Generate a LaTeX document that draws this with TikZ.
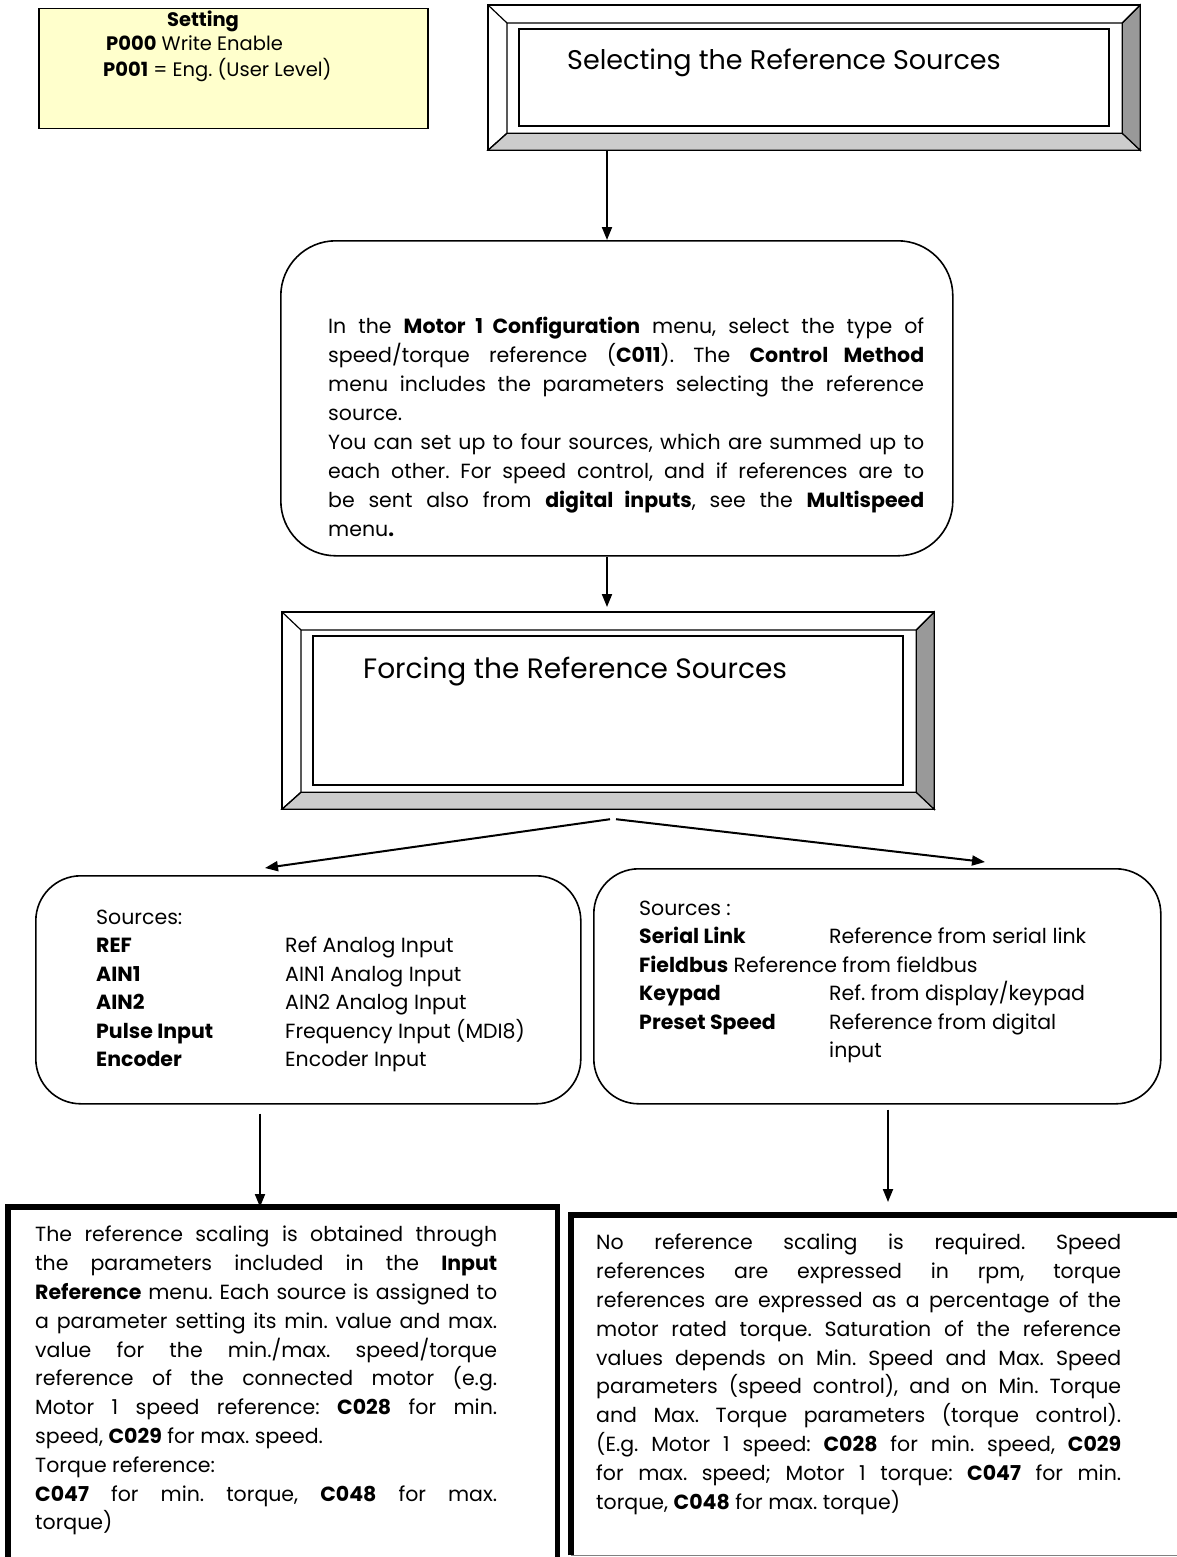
\documentclass[tikz,border=0pt]{standalone}
\usepackage{fontspec}
\setmainfont{Poppins}
\usetikzlibrary{calc,arrows.meta}

\definecolor{notefill}{HTML}{FFFFCC}
\definecolor{bevlight}{HTML}{CCCCCC}
\definecolor{bevdark}{HTML}{999999}

\hyphenpenalty=10000
\exhyphenpenalty=10000
\frenchspacing

\tikzset{
  arr/.style={line width=2pt, -{Triangle[length=13pt,width=10pt]}},
  notebox/.style={draw, fill=notefill, line width=1.5pt, anchor=north west, inner sep=0pt},
  notetxt/.style={inner sep=0pt, font=\fontsize{19.5}{24}\selectfont},
  bevbox/.style={draw, line width=1.2pt, anchor=north west, inner sep=0pt},
  ttl/.style={inner sep=0pt, font=\fontsize{27}{32}\selectfont},
  srcbox/.style={draw, line width=1.6pt, rounded corners=45pt, anchor=north west, inner sep=0pt},
  srctxt/.style={inner sep=0pt, anchor=north west, font=\fontsize{20.5}{28.5}\selectfont},
  body/.style={inner sep=0pt, anchor=north west, align=justify, font=\fontsize{20.5}{28.8}\selectfont},
  heavy/.style={line width=5.5pt}
}

\newcommand{\bevelframe}[1]{%
  \coordinate (#1-ia) at ($(#1.north west)+(19,18)$);
  \coordinate (#1-ib) at ($(#1.north east)+(-18,18)$);
  \coordinate (#1-ic) at ($(#1.south east)+(-18,-17)$);
  \coordinate (#1-id) at ($(#1.south west)+(19,-17)$);
  \filldraw[fill=bevlight, draw=black, line width=1.2pt] (#1.south west) -- (#1.south east) -- (#1-ic) -- (#1-id) -- cycle;
  \filldraw[fill=bevdark, draw=black, line width=1.2pt] (#1.south east) -- (#1.north east) -- (#1-ib) -- (#1-ic) -- cycle;
  \draw[line width=1.2pt] (#1.north west) -- (#1-ia) -- (#1-ib) -- (#1.north east) (#1-ia) -- (#1-id) -- (#1.south west);
  \draw[line width=1.2pt] (#1.north west) rectangle (#1.south east);
  \draw[line width=2pt, fill=white] ($(#1.north west)+(31,24)$) rectangle ($(#1.south east)+(-31,-24)$);
}

\begin{document}
\begin{tikzpicture}[x=1pt, y=-1pt]
    \useasboundingbox (0,0) rectangle (1177,1557);
    \fill[white] (0,0) rectangle (1177,1557);

    % setting note
    \node[notebox, minimum width=389pt, minimum height=120pt] (set) at (38,8) {};
    \node[notetxt, anchor=base] (sett) at (203,27) {\textbf{Setting}};
    \node[notetxt, anchor=base west] (p0) at (106,51) {\textbf{P000} Write Enable};
    \node[notetxt, anchor=base west] (p1) at (103,77) {\textbf{P001} = Eng. (User Level)};

    % bevelled frames
    \node[bevbox, minimum width=651pt, minimum height=144pt] (sel) at (488,5) {};
    \bevelframe{sel}
    \node[ttl, anchor=base west] (selt) at (567,70) {Selecting the Reference Sources};

    \node[srcbox, rounded corners=55pt, minimum width=672pt, minimum height=315pt] (mot) at (280,240) {};
    \node[body, text width=596pt, font=\fontsize{20.5}{29}\selectfont] (mott) at (328,317) {In the \textbf{Motor 1 Configuration} menu, select the type of\linebreak
      speed/torque reference (\textbf{C011}). The \textbf{Control Method}\linebreak
      menu includes the parameters selecting the reference\linebreak
      source.\\
      You can set up to four sources, which are summed up to\linebreak
      each other. For speed control, and if references are to\linebreak
      be sent also from \textbf{digital inputs}, see the \textbf{Multispeed}\linebreak
      menu\textbf{.}};

    \node[bevbox, minimum width=651pt, minimum height=196pt] (frc) at (282,612) {};
    \bevelframe{frc}
    \node[ttl, anchor=base west, font=\fontsize{28}{32}\selectfont] (frct) at (363,678) {Forcing the Reference Sources};

    % source lists
    \node[srcbox, minimum width=545pt, minimum height=228pt] (lsrc) at (35,875) {};
    \node[srctxt] (lsrct) at (96,904) {\begin{tabular}{@{}p{189pt}@{}l@{}}
      Sources: & \\
      \textbf{REF} & Ref Analog Input\\
      \textbf{AIN1} & AIN1 Analog Input\\
      \textbf{AIN2} & AIN2 Analog Input\\
      \textbf{Pulse Input} & Frequency Input (MDI8)\\
      \textbf{Encoder} & Encoder Input
    \end{tabular}};

    \node[srcbox, minimum width=567pt, minimum height=235pt] (rsrc) at (593,868) {};
    \node[srctxt] (rsrct) at (639,895) {\begin{tabular}{@{}p{190pt}@{}l@{}}
      Sources : & \\
      \textbf{Serial Link} & Reference from serial link\\
      \multicolumn{2}{@{}l@{}}{\textbf{Fieldbus} Reference from fieldbus}\\
      \textbf{Keypad} & Ref. from display/keypad\\
      \textbf{Preset Speed} & Reference from digital\\
      & input
    \end{tabular}};

    % scaling notes
    \node[anchor=north west, inner sep=0pt, minimum width=549pt, minimum height=350pt] (scl) at (8,1207) {};
    \draw[heavy] (scl.south west) |- (scl.north east) -- (scl.south east);
    \node[body, text width=462pt] (sclt) at (35,1226) {The reference scaling is obtained through\linebreak
      the parameters included in the \textbf{Input}\linebreak
      \textbf{Reference} menu. Each source is assigned to\linebreak
      a parameter setting its min. value and max.\linebreak
      value for the min./max. speed/torque\linebreak
      reference of the connected motor (e.g.\linebreak
      Motor 1 speed reference: \textbf{C028} for min.\linebreak
      speed, \textbf{C029} for max. speed.\\
      Torque reference:\\
      \textbf{C047} for min. torque, \textbf{C048} for max.\linebreak
      torque)};

    \node[anchor=north west, inner sep=0pt, minimum width=620pt, minimum height=340pt] (nsc) at (571,1215) {};
    \draw[heavy] (nsc.south west) |- (nsc.north east);
    \draw[line width=1pt, gray] (nsc.south west) -- (nsc.south east);
    \node[body, text width=525pt] (nsct) at (596,1234) {No reference scaling is required. Speed\linebreak
      references are expressed in rpm, torque\linebreak
      references are expressed as a percentage of the\linebreak
      motor rated torque. Saturation of the reference\linebreak
      values depends on Min. Speed and Max. Speed\linebreak
      parameters (speed control), and on Min. Torque\linebreak
      and Max. Torque parameters (torque control).\linebreak
      (E.g. Motor 1 speed: \textbf{C028} for min. speed, \textbf{C029}\linebreak
      for max. speed; Motor 1 torque: \textbf{C047} for min.\linebreak
      torque, \textbf{C048} for max. torque)};

    % connectors
    \coordinate (lt) at (265,868);
    \coordinate (rt) at (985,862);
    \draw[arr] (sel.south -| 607,0) -- (mot.north -| 607,0);
    \draw[arr] (mot.south -| 607,0) -- ($(frc.north -| 607,0)+(0,-5)$);
    \draw[arr] ($(frc.south -| 610,0)+(0,10)$) -- (lt);
    \draw[arr] ($(frc.south -| 616,0)+(0,10)$) -- (rt);
    \draw[arr] ($(lsrc.south -| 260,0)+(0,9)$) -- (scl.north -| 260,0);
    \draw[arr] ($(rsrc.south -| 888,0)+(0,5)$) -- ($(nsc.north -| 888,0)+(0,-13)$);
\end{tikzpicture}
\end{document}
